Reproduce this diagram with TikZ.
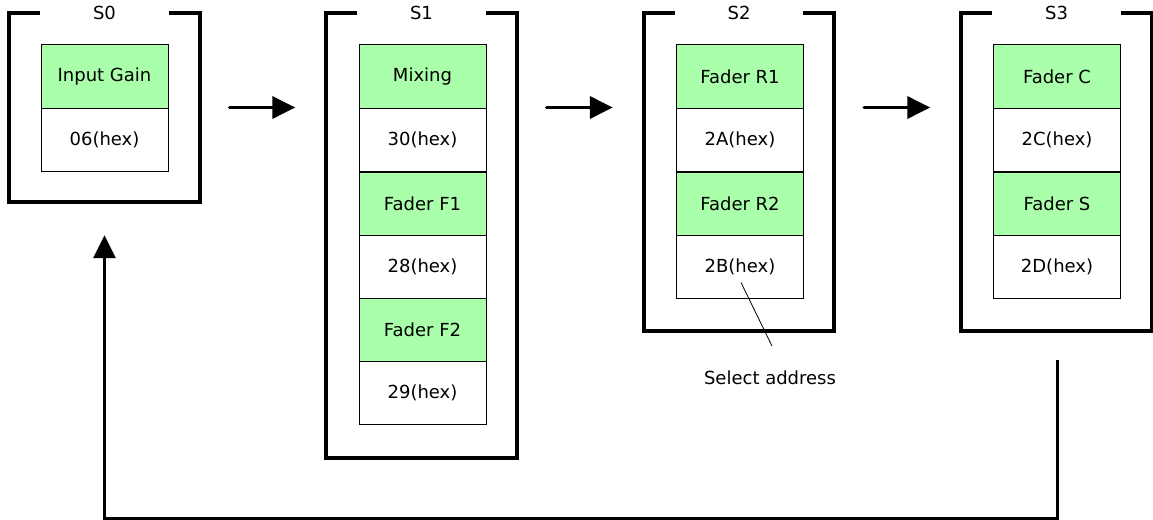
\documentclass[tikz,border=0pt]{standalone}
\usepackage{fontspec}
\setmainfont{DejaVu Sans}
\usepackage{xcolor}
\usepackage{tikz}
\usetikzlibrary{arrows.meta}

\definecolor{namegreen}{RGB}{170,255,170}

\begin{document}
\begin{tikzpicture}[
  x=1pt, y=-1pt,
  every node/.style={font=\fontsize{18}{21}\selectfont},
  cell/.style={draw, line width=1pt, inner sep=0pt,
               minimum width=127pt, minimum height=63pt},
  namecell/.style={cell, fill=namegreen},
  hexcell/.style={cell, fill=white},
  stage/.style={inner sep=0pt, minimum width=190pt},
  bracket/.style={line width=4pt, line join=miter},
  arr/.style={-{Triangle[length=23pt, width=22pt]}, line width=3.5pt,
              line cap=round, shorten <=30pt, shorten >=31pt},
  fb/.style={-{Triangle[length=23pt, width=22pt]}, line width=3pt},
  pointer/.style={line width=0.8pt},
]
  \useasboundingbox (0,0) rectangle (1153,519);

  \node[stage, minimum height=189pt] (s0) at (104.5, 107.5) {};
  \node[stage, minimum height=445pt] (s1) at (421.5, 235.5) {};
  \node[stage, minimum height=318pt] (s2) at (739, 172) {};
  \node[stage, minimum height=318pt] (s3) at (1056.5, 172) {};

  \draw[bracket] ([xshift=31pt]s0.north west) -- (s0.north west) -- (s0.south west)
    -- (s0.south east) -- (s0.north east) -- ([xshift=-31pt]s0.north east);
  \draw[bracket] ([xshift=31pt]s1.north west) -- (s1.north west) -- (s1.south west)
    -- (s1.south east) -- (s1.north east) -- ([xshift=-31pt]s1.north east);
  \draw[bracket] ([xshift=31pt]s2.north west) -- (s2.north west) -- (s2.south west)
    -- (s2.south east) -- (s2.north east) -- ([xshift=-31pt]s2.north east);
  \draw[bracket] ([xshift=31pt]s3.north west) -- (s3.north west) -- (s3.south west)
    -- (s3.south east) -- (s3.north east) -- ([xshift=-31pt]s3.north east);

  \node (t0) at (s0.north) {S0};
  \node (t1) at (s1.north) {S1};
  \node (t2) at (s2.north) {S2};
  \node (t3) at (s3.north) {S3};

  \node[namecell] (gain)  at (104.5, 76.5) {Input Gain};
  \node[hexcell]  (gainx) at (104.5, 140)  {06(hex)};

  \node[namecell] (mix)  at (422.5, 76.5)  {Mixing};
  \node[hexcell]  (mixx) at (422.5, 140)   {30(hex)};
  \node[namecell] (ff1)  at (422.5, 203.5) {Fader F1};
  \node[hexcell]  (ff1x) at (422.5, 266.5) {28(hex)};
  \node[namecell] (ff2)  at (422.5, 329.5) {Fader F2};
  \node[hexcell]  (ff2x) at (422.5, 392.5) {29(hex)};

  \node[namecell] (fr1)  at (740, 76.5)  {Fader R1};
  \node[hexcell]  (fr1x) at (740, 140)   {2A(hex)};
  \node[namecell] (fr2)  at (740, 203.5) {Fader R2};
  \node[hexcell]  (fr2x) at (740, 266.5) {2B(hex)};

  \node[namecell] (fc)  at (1057, 76.5)  {Fader C};
  \node[hexcell]  (fcx) at (1057, 140)   {2C(hex)};
  \node[namecell] (fs)  at (1057, 203.5) {Fader S};
  \node[hexcell]  (fsx) at (1057, 266.5) {2D(hex)};

  \coordinate (tip) at (772, 346);
  \node (addr) at (770, 378) {Select address};
  \draw[pointer] ([shift={(1,16)}]fr2x.center) -- (tip);

  \draw[arr] (s0.east) -- (s0.east -| s1.west);
  \draw[arr] (s0.east -| s1.east) -- (s0.east -| s2.west);
  \draw[arr] (s0.east -| s2.east) -- (s0.east -| s3.west);

  \coordinate (back) at (1057, 360);
  \coordinate (turn) at (104.5, 518);
  \draw[fb, shorten >=33pt] (back) |- (turn) -- (s0.south);
\end{tikzpicture}
\end{document}
